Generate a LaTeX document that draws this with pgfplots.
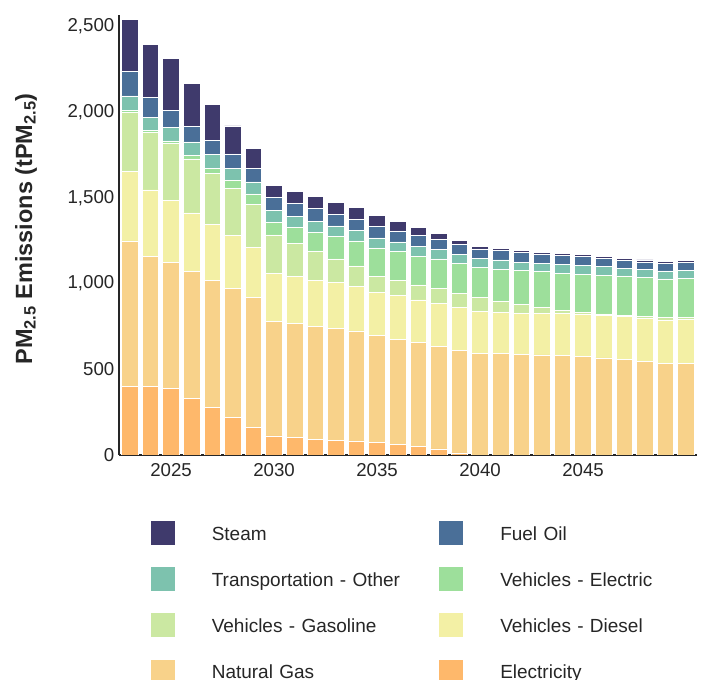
\documentclass[border=0pt]{standalone}
\usepackage{fontspec}
\setmainfont{Liberation Sans}
\usepackage{pgfplots}
\usepackage{pgfplotstable}
\pgfplotsset{compat=1.18}
\definecolor{cSteam}{HTML}{3F3A6C}
\definecolor{cFO}{HTML}{4A6F98}
\definecolor{cTO}{HTML}{7DC2AE}
\definecolor{cEV}{HTML}{9DDF9B}
\definecolor{cGas}{HTML}{CBE8A2}
\definecolor{cDiesel}{HTML}{F3F0A5}
\definecolor{cNG}{HTML}{F8D28A}
\definecolor{cElec}{HTML}{FEB86B}

\pgfplotstableread{
year elec ng diesel gas evs to fo steam
2023 400 848 404 344 10 87 142 305
2024 398 762 385 334 12 78 116 307
2025 389 734 360 334 14 77 103 301
2026 330 741 340 315 21 78 89 252
2027 276 742 327 295 33 80 83 206
2028 220 750 309 274 46 74 82 163
2029 163 754 292 253 60 70 79 117
2030 111 668 280 224 71 69 77 70
2031 103 665 272 194 93 66 74 70
2032 93 657 269 169 110 64 74 70
2033 87 652 266 138 130 62 68 68
2034 82 641 262 117 146 60 66 68
2035 74 622 254 92 165 58 66 66
2036 62 612 257 89 165 57 64 54
2037 48 607 249 87 169 58 62 45
2038 35 600 251 84 173 54 62 31
2039 12 600 249 81 175 53 60 23
2040 0 593 243 83 175 53 54 13
2041 0 591 241 64 187 54 54 12
2042 0 585 241 51 197 51 57 9
2043 0 583 243 35 208 50 53 11
2044 0 579 247 19 214 51 54 12
2045 0 575 247 10 223 51 52 10
2046 0 566 246 10 227 49 46 12
2047 0 558 248 10 228 46 43 14
2048 0 546 251 9 228 49 42 12
2049 0 535 252 13 226 47 44 10
2050 0 535 256 12 225 48 48 10
}\data

\begin{document}
\begin{tikzpicture}
\begin{axis}[
  name=ax,
  width=433.5pt, height=330pt, scale only axis,
  ybar stacked, bar width=0.8,
  xmin=2022.47, xmax=2050.53, ymin=0, ymax=2565,
  enlargelimits=false,
  axis x line*=bottom, axis y line*=left,
  axis line style={line width=1.5pt, color=black!85},
  xtick={2025,2030,2035,2040,2045},
  ytick={0,500,1000,1500,2000,2500},
  major tick length=0pt,
  /pgf/number format/assume math mode=true,
  tick label style={font=\fontsize{14pt}{16pt}\selectfont, text=black!85},
  xticklabel style={/pgf/number format/1000 sep=, yshift=-2.5pt},
  yticklabel style={/pgf/number format/1000 sep={,}},
  ylabel={PM\textsubscript{2.5} Emissions (tPM\textsubscript{2.5})},
  ylabel style={font=\fontsize{17.6pt}{20pt}\selectfont\bfseries, text=black!85,
    at={(axis description cs:-0.161,0.514)}, anchor=center},
  legend columns=2, reverse legend,
  legend cell align=left,
  legend image code/.code={\fill[#1] (0pt,-8.25pt) rectangle (18.75pt,10.5pt);},
  legend style={
    at={(axis description cs:0.0536,-0.1477)}, anchor=north west,
    draw=none, fill=none, inner sep=0pt, outer sep=0pt,
    font=\fontsize{14.25pt}{17pt}\selectfont,
    text=black!85,
    row sep=15.3pt,
    nodes={inner sep=0pt, text width=170pt, align=left},
    /tikz/every odd column/.append style={column sep=27pt},
    /tikz/every even column/.append style={column sep=0pt},
  },
]
\addplot[fill=cElec, draw=white, line width=0.6pt] table[x=year, y=elec] {\data};
\addlegendentry{Electricity}
\addplot[fill=cNG, draw=white, line width=0.6pt] table[x=year, y=ng] {\data};
\addlegendentry{Natural Gas}
\addplot[fill=cDiesel, draw=white, line width=0.6pt] table[x=year, y=diesel] {\data};
\addlegendentry{Vehicles - Diesel}
\addplot[fill=cGas, draw=white, line width=0.6pt] table[x=year, y=gas] {\data};
\addlegendentry{Vehicles - Gasoline}
\addplot[fill=cEV, draw=white, line width=0.6pt] table[x=year, y=evs] {\data};
\addlegendentry{Vehicles - Electric}
\addplot[fill=cTO, draw=white, line width=0.6pt] table[x=year, y=to] {\data};
\addlegendentry{Transportation - Other}
\addplot[fill=cFO, draw=white, line width=0.6pt] table[x=year, y=fo] {\data};
\addlegendentry{Fuel Oil}
\addplot[fill=cSteam, draw=white, line width=0.6pt] table[x=year, y=steam] {\data};
\addlegendentry{Steam}
\end{axis}
\pgfresetboundingbox
\path[use as bounding box] ([shift={(-89.25pt,-168.75pt)}]ax.south west) rectangle ([shift={(440.25pt,341.25pt)}]ax.south west);
\end{tikzpicture}
\end{document}
